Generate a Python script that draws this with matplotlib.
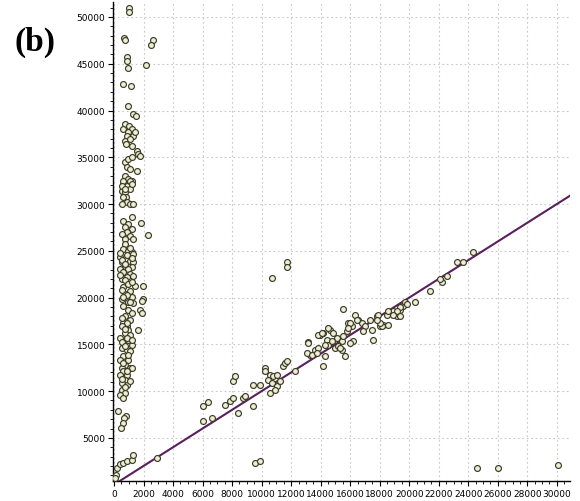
import numpy as np
import matplotlib
matplotlib.use("Agg")
import matplotlib.pyplot as plt
from matplotlib.ticker import MultipleLocator

# data
# vertical cluster near x = 0..2600
cluster_x = [1015, 1015, 680, 750, 2640, 2505, 880, 880, 950, 2165,
             610, 1150, 950, 1285, 1490, 745, 1015, 610, 1220, 950,
             880, 1285, 745, 1085, 810, 1220, 1420, 1555, 1625, 1760,
             745, 950, 1220, 880, 1085, 1555, 745, 950, 1220, 610,
             880, 540, 745, 1085, 810, 610, 1085, 1220, 540, 745,
             610, 880, 1085, 1285, 540, 1220, 610, 950, 745, 1220,
             880, 540, 1085, 745, 1285, 1830, 2300, 745, 610, 950,
             1220, 1285, 405, 880, 1085, 540, 1285, 745, 1220, 950,
             405, 610, 1085, 1285, 880, 540, 1420, 1965, 610, 1085,
             745, 1220, 540, 950, 1285, 1965, 1895, 610, 950, 1760,
             1220, 745, 1895, 1085, 610, 880, 880, 540, 950, 745,
             1625, 405, 950, 610, 1220, 540, 880, 1085, 610, 405,
             950, 745, 540, 1085, 610, 405, 880, 1220, 745, 540,
             880, 540, 745, 405, 610, 270, 810, 675, 610, 475,
             200, 405, 610, 880, 1220, 1285, 135, 50,
             405, 880, 1085, 540, 745, 1220, 405, 745, 950, 1220,
             540, 880, 610, 1085, 540, 745, 1085, 540, 880, 1220,
             745, 950, 610, 880, 540, 1085, 745]
cluster_y = [50970, 50540, 47770, 47560, 47560, 47030, 45750, 45330, 44580, 44900,
             42880, 42670, 40430, 39580, 39370, 38520, 38300, 37990, 37990, 37670,
             37240, 37240, 36710, 36920, 36390, 36180, 37670, 35640, 35330, 35110,
             34470, 34790, 35010, 33940, 33730, 33520, 32980, 32670, 32450, 32130,
             31920, 31390, 31280, 31600, 30750, 32450, 32450, 32130, 31920, 31600,
             30750, 30220, 30005, 30005, 30005, 28620, 28200, 27880, 27560, 27350,
             27030, 26810, 26600, 26280, 26280, 27980, 26710, 25750, 25220, 25000,
             24900, 24690, 24370, 24150, 23940, 23830, 23830, 23410, 23300, 23090,
             23090, 22770, 22560, 22340, 22240, 22030, 21280, 21280, 21170, 20750,
             20430, 20110, 19900, 19580, 19370, 19900, 19680, 19050, 18620, 18620,
             18300, 17980, 18300, 17560, 17240, 16920, 17240, 16920, 16490, 16170,
             16490, 15640, 15430, 15110, 14900, 14580, 14360, 14260, 13730, 13300,
             13300, 12770, 12450, 12450, 12130, 11700, 11700, 12450, 11170, 10850,
             10640, 10110, 9790, 9580, 9260, 7870, 7340, 7130, 6600, 6070,
             1810, 2230, 2340, 2550, 2660, 3190, 1060, 750,
             24800, 24600, 25300, 24000, 23600, 24200, 22400, 21900, 21500, 21700,
             20800, 20300, 20100, 19500, 17800, 16600, 16000, 15300, 15700, 15500,
             14800, 13900, 13000, 12100, 11300, 11100, 10400]

# points around the diagonal
diag_x = [2910, 6025, 6364, 6025, 6635, 7515, 7853, 8056, 8395, 8733,
          9410, 8056, 8192, 8869, 9410, 9884, 10223, 10223, 10561, 10426,
          10764, 11035, 10697, 11035, 10561, 10900, 11238, 11441, 11577, 11712,
          12254, 13134, 13269, 13066, 13608, 13811, 13946, 14149, 14420, 14488,
          14623, 14826, 15097, 14285, 14149, 14962, 15165, 15436, 15639, 15774,
          15842, 16113, 16180, 16316, 16519, 16790, 16993, 16857, 17331, 17467,
          17534, 17805, 18008, 18211, 18550, 18482, 18888, 19159, 19362, 19565,
          19701, 20378, 15503, 24304, 23221, 23627, 22206, 22544, 22070, 21393,
          19362, 19836, 19159, 19362, 18888, 18550, 18144, 18008, 16451, 15977,
          17873, 17805, 15842, 14488, 13811, 14082, 13134, 13405, 13743, 14285,
          14759, 15436, 15503, 15300, 15977]
diag_y = [2870, 8406, 8831, 6810, 7129, 8512, 8938, 9257, 7661, 9257,
          8406, 11066, 11598, 9470, 10640, 10640, 12449, 12130, 11704, 11172,
          11598, 11704, 10853, 10534, 9789, 10108, 11066, 12662, 12981, 13194,
          12130, 15215, 13832, 14045, 14364, 14577, 15960, 16173, 15428, 14896,
          16492, 16173, 15641, 13726, 12662, 14577, 14790, 14364, 13726, 16386,
          17237, 16918, 15322, 18088, 17556, 17237, 16918, 16386, 17556, 16492,
          15428, 17982, 16918, 17020, 17020, 18088, 18514, 17982, 18620, 19152,
          19578, 19578, 18833, 24898, 23834, 23834, 21706, 22344, 22025, 20748,
          19046, 19365, 18514, 17982, 18088, 18514, 16918, 17237, 17556, 17237,
          18088, 17556, 16705, 16705, 15960, 16173, 15109, 13832, 14045, 14896,
          15322, 15322, 15854, 14577, 15109]

# outliers
out_x = [10700, 11710, 11710, 9550, 9890, 24570, 26000, 30060]
out_y = [22130, 23830, 23300, 2340, 2550, 1810, 1810, 2130]

fit_x = [0, 31000]
fit_y = [0, 31000]

fig = plt.figure(figsize=(5.8, 5.02), dpi=100)
ax = fig.add_axes([0.195, 0.04, 0.788, 0.954])

ax.plot(fit_x, fit_y, color="#5a1f5c", lw=1.5, zorder=3)

xs = cluster_x + diag_x + out_x
ys = cluster_y + diag_y + out_y
ax.scatter(xs, ys, s=18, facecolor="#eeeed4", edgecolor="#3c3c2a",
           linewidth=0.85, zorder=4)

ax.set_xlim(-60, 30900)
ax.set_ylim(400, 51600)
ax.xaxis.set_major_locator(MultipleLocator(2000))
ax.xaxis.set_minor_locator(MultipleLocator(500))
ax.yaxis.set_major_locator(MultipleLocator(5000))
ax.yaxis.set_minor_locator(MultipleLocator(1000))
ax.set_yticks([t for t in range(5000, 51000, 5000)])

ax.grid(True, which="major", color="#c8c8c8", linestyle=(0, (1.5, 2.5)), lw=0.8)
ax.set_axisbelow(True)

for s in ["top", "right"]:
    ax.spines[s].set_visible(False)
ax.spines["left"].set_linewidth(1.0)
ax.spines["bottom"].set_linewidth(1.0)

ax.tick_params(which="major", length=3.5, width=0.8, labelsize=6.5, pad=2)
ax.tick_params(which="minor", length=2, width=0.6)

fig.text(0.06, 0.915, "(b)", fontsize=24, fontweight="bold",
         family="Liberation Serif", ha="center", va="center")

fig.savefig("out.png", dpi=100)
